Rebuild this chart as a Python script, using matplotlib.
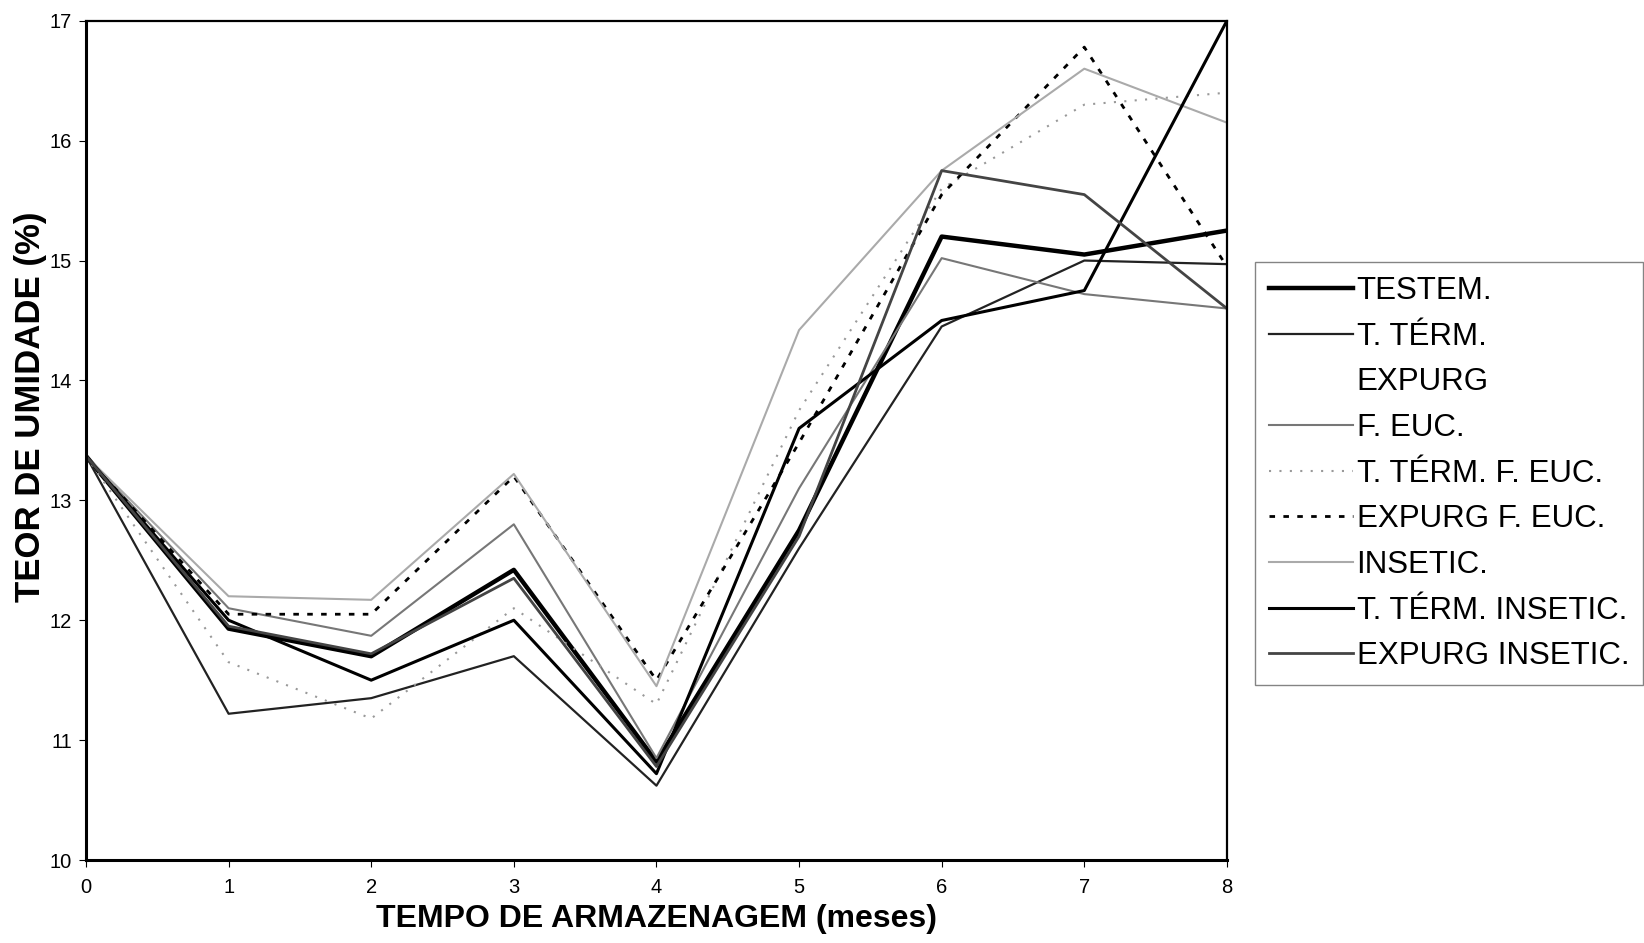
import matplotlib.pyplot as plt
from matplotlib.lines import Line2D

# meses de armazenagem
meses = [0, 1, 2, 3, 4, 5, 6, 7, 8]

# teor de umidade (%) por tratamento
testem = [13.37, 11.93, 11.70, 12.42, 10.82, 12.75, 15.20, 15.05, 15.25]
t_term_expurg = [13.37, 11.22, 11.35, 11.70, 10.62, 12.60, 14.45, 15.00, 14.97]
f_euc = [13.37, 12.10, 11.87, 12.80, 10.85, 13.10, 15.02, 14.72, 14.60]
t_term_f_euc = [13.37, 11.65, 11.18, 12.10, 11.30, 13.75, 15.60, 16.30, 16.40]
expurg_f_euc = [13.37, 12.05, 12.05, 13.20, 11.50, 13.48, 15.55, 16.78, 14.95]
insetic = [13.37, 12.20, 12.17, 13.22, 11.45, 14.42, 15.75, 16.60, 16.15]
t_term_insetic = [13.37, 12.00, 11.50, 12.00, 10.72, 13.60, 14.50, 14.75, 17.00]
expurg_insetic = [13.37, 11.95, 11.72, 12.35, 10.78, 12.70, 15.75, 15.55, 14.60]

plt.rcParams['font.family'] = ['Liberation Sans', 'DejaVu Sans']

fig = plt.figure(figsize=(16.44, 9.43), dpi=100)
ax = fig.add_axes([0.0523, 0.088, 0.694, 0.890])

l1, = ax.plot(meses, testem, color='black', lw=3.2)
l2, = ax.plot(meses, t_term_expurg, color='#222222', lw=1.6)
l3, = ax.plot(meses, f_euc, color='#777777', lw=1.5)
l4, = ax.plot(meses, t_term_f_euc, color='#999999', lw=1.5, dashes=(1, 4))
l5, = ax.plot(meses, expurg_f_euc, color='black', lw=2, dashes=(2, 3))
l6, = ax.plot(meses, insetic, color='#aaaaaa', lw=1.5)
l7, = ax.plot(meses, t_term_insetic, color='black', lw=2.2)
l8, = ax.plot(meses, expurg_insetic, color='#444444', lw=2)

# entrada vazia para a segunda linha do rotulo "T. TERM. EXPURG"
vazio = Line2D([], [], color='none')

ax.set_xlim(0, 8)
ax.set_ylim(10, 17)
ax.set_xticks(meses)
ax.set_yticks(range(10, 18))
ax.tick_params(axis='both', labelsize=14.5, direction='out', length=5, width=0.8)
ax.tick_params(axis='x', pad=8)
ax.tick_params(axis='y', pad=5)
for s in ['left', 'bottom']:
    ax.spines[s].set_linewidth(2.2)
for s in ['top', 'right']:
    ax.spines[s].set_linewidth(1.6)

ax.set_xlabel('TEMPO DE ARMAZENAGEM (meses)', fontsize=23, fontweight='bold',
              labelpad=5)
ax.set_ylabel('TEOR DE UMIDADE (%)', fontsize=25, fontweight='bold')
ax.yaxis.set_label_coords(-0.034, 0.54)

handles = [l1, l2, vazio, l3, l4, l5, l6, l7, l8]
labels = ['TESTEM.', 'T. TÉRM.', 'EXPURG', 'F. EUC.', 'T. TÉRM. F. EUC.',
          'EXPURG F. EUC.', 'INSETIC.', 'T. TÉRM. INSETIC.', 'EXPURG INSETIC.']
leg = fig.legend(handles, labels, loc='upper left', bbox_to_anchor=(0.7634, 0.722),
                 fontsize=22.5, frameon=True, fancybox=False, handlelength=2.7,
                 handletextpad=0.1, labelspacing=0.5, borderpad=0.45,
                 borderaxespad=0)
leg.get_frame().set_edgecolor('#666666')
leg.get_frame().set_linewidth(1)

fig.savefig('out.png', dpi=100)
